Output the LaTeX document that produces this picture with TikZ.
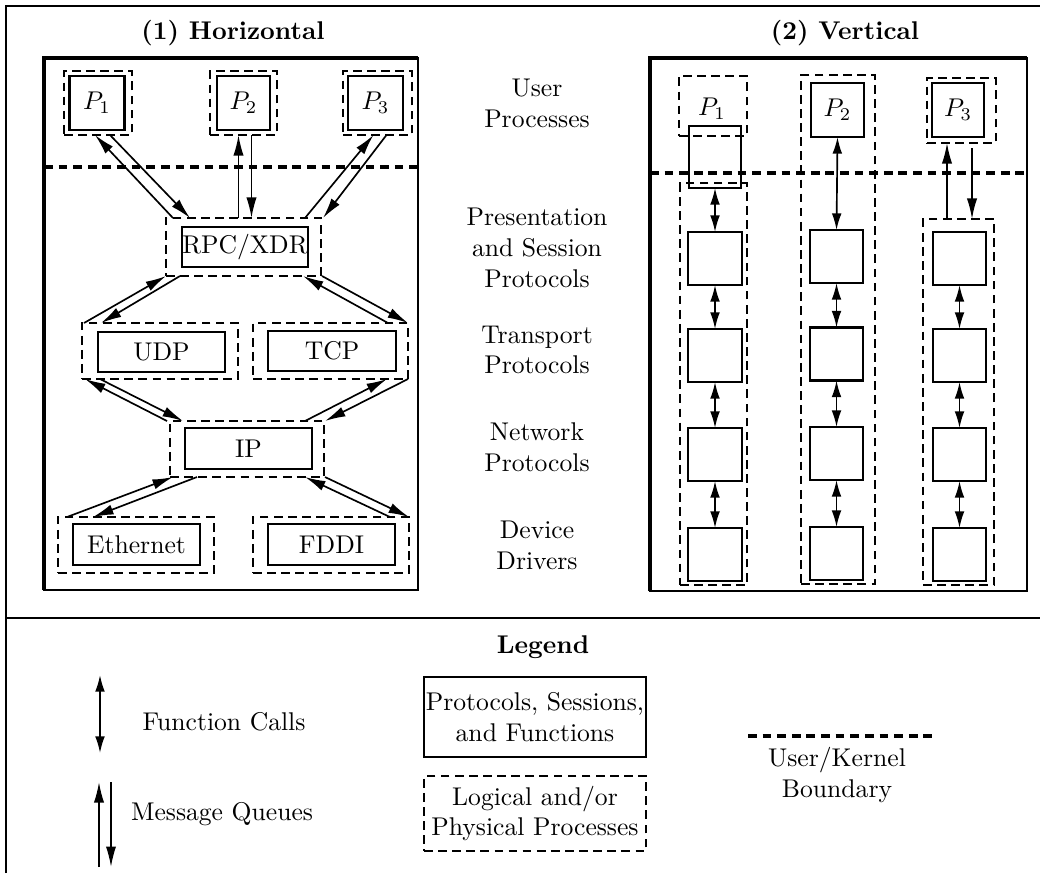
\documentclass[tikz,border=0pt]{standalone}
\usetikzlibrary{arrows.meta,calc}
\tikzset{
  sz/.style 2 args={minimum width=#1*0.39pt, minimum height=#2*0.39pt},
  sbox/.style={draw, line width=0.95pt, inner sep=0pt, outer sep=0pt},
  dbox/.style={draw, line width=0.85pt, dash pattern=on 3.4pt off 2.1pt, inner sep=0pt, outer sep=0pt},
  mq/.style={line width=0.65pt, -{Latex[length=8pt,width=4pt]}},
  fc/.style={line width=0.65pt, {Latex[length=6.5pt,width=3.8pt]}-{Latex[length=6.5pt,width=3.8pt]}},
  ukb/.style={line width=1.7pt, dash pattern=on 3.4pt off 2.3pt},
  thinframe/.style={line width=0.6pt},
  thickframe/.style={line width=1.7pt},
  lbl/.style={align=center, inner sep=0pt},
  ttl/.style={font=\bfseries, inner sep=0pt}
}
\begin{document}
\begin{tikzpicture}[x=0.39pt, y=-0.39pt]
\useasboundingbox (0,0) rectangle (1040,873);
% outer frame
\draw[line width=0.8pt] (6,873) -- (6,6) -- (1040,6);
\draw[line width=0.8pt] (6,618) -- (1040,618);

% ===== (1) Horizontal =====
\node[ttl] (t1ttl) at (233,33) {(1) Horizontal};
\draw[thinframe] (44,58) rectangle (418,590);
\draw[thickframe] (44,590) -- (44,58) -- (418,58);
\draw[ukb] (44,167) -- (418,167);

\node[dbox, sz={68}{64}] (p1o) at (98,103) {};
\node[sbox, sz={55}{54}] (p1) at (97,103) {$P_1$};
\node[dbox, sz={67}{64}] (p2o) at (243.5,103) {};
\node[sbox, sz={53}{54}] (p2) at (243.5,103) {$P_2$};
\node[dbox, sz={69}{64}] (p3o) at (377.5,103) {};
\node[sbox, sz={55}{54}] (p3) at (375.5,103) {$P_3$};

\node[dbox, sz={155}{58}] (rpco) at (243.5,247) {};
\node[sbox, sz={126}{40}] (rpc) at (245,247) {RPC/XDR};

\node[dbox, sz={156}{56}] (udpo) at (160,351) {};
\node[sbox, sz={127}{40}] (udp) at (161.5,352) {UDP};
\node[dbox, sz={155}{56}] (tcpo) at (330.5,351) {};
\node[sbox, sz={128}{40}] (tcp) at (332,351) {TCP};

\node[dbox, sz={154}{56}] (ipo) at (247,449) {};
\node[sbox, sz={127}{41}] (ip) at (248.5,448.5) {IP};

\node[dbox, sz={156}{56}] (etho) at (136,545) {};
\node[sbox, sz={127}{41}] (eth) at (136.5,544.5) {Ethernet};
\node[dbox, sz={156}{56}] (fddio) at (331,545) {};
\node[sbox, sz={127}{41}] (fddi) at (331.5,544.5) {FDDI};

% message queues, left panel
\draw[mq] ($(rpco.north west)+(7,0)$) -- ($(p1o.south)+(-3,0)$);
\draw[mq] ($(p1o.south)+(12,0)$) -- ($(rpco.north west)+(24,0)$);
\draw[mq] ($(rpco.north)+(-5,0)$) -- ($(p2o.south)+(-5,0)$);
\draw[mq] ($(p2o.south)+(8,0)$) -- ($(rpco.north)+(8,0)$);
\draw[mq] ($(rpco.north east)+(-16,0)$) -- ($(p3o.south)+(-4,0)$);
\draw[mq] ($(p3o.south)+(9,0)$) -- ($(rpco.north east)+(2,0)$);

\draw[mq] ($(udpo.north west)+(2,0)$) -- (rpco.south west);
\draw[mq] ($(rpco.south west)+(14,0)$) -- ($(udpo.north west)+(19,0)$);
\draw[mq] ($(tcpo.north east)+(-20,0)$) -- ($(rpco.south east)+(-18,0)$);
\draw[mq] ($(rpco.south east)+(1,0)$) -- (tcpo.north east);

\draw[mq] ($(ipo.north west)+(-3,0)$) -- ($(udpo.south west)+(3,0)$);
\draw[mq] ($(udpo.south west)+(18,0)$) -- ($(ipo.north west)+(13,0)$);
\draw[mq] ($(ipo.north east)+(-19,0)$) -- ($(tcpo.south east)+(-21,0)$);
\draw[mq] (tcpo.south east) -- ($(ipo.north east)+(1,0)$);

\draw[mq] ($(etho.north west)+(9,0)$) -- ($(ipo.south west)+(3,0)$);
\draw[mq] ($(ipo.south west)+(27,0)$) -- ($(etho.north west)+(35,0)$);
\draw[mq] ($(fddio.north east)+(-19,0)$) -- ($(ipo.south east)+(-19,0)$);
\draw[mq] ($(ipo.south east)+(1,0)$) -- (fddio.north east);

% ===== middle labels =====
\node[lbl] (lu) at (537,103) {User\\Processes};
\node[lbl] (lp) at (537,248) {Presentation\\and Session\\Protocols};
\node[lbl] (lt) at (537,350) {Transport\\Protocols};
\node[lbl] (ln) at (537,447) {Network\\Protocols};
\node[lbl] (ld) at (537,545) {Device\\Drivers};

% ===== (2) Vertical =====
\node[ttl] (t2ttl) at (845,33) {(2) Vertical};
\draw[thinframe] (650,58) rectangle (1027,591);
\draw[thickframe] (650,591) -- (650,58) -- (1027,58);
\draw[ukb] (650,173) -- (1027,173);

% column 1
\node[dbox, sz={68}{60}] (p1vo) at (713,106) {};
\node[inner sep=0pt] (p1vl) at (712,109) {$P_1$};
\node[dbox, sz={67}{402}] (c1d) at (713.5,384) {};
\node[sbox, sz={52}{62}] (t1) at (715,157) {};
\node[sbox, sz={54}{53}] (b11) at (715,258.5) {};
\node[sbox, sz={54}{53}] (b12) at (715,355.5) {};
\node[sbox, sz={54}{53}] (b13) at (715,454.5) {};
\node[sbox, sz={54}{53}] (b14) at (715,554.5) {};
\draw[fc] (t1.south) -- (b11.north);
\draw[fc] (b11.south) -- (b12.north);
\draw[fc] (b12.south) -- (b13.north);
\draw[fc] (b13.south) -- (b14.north);

% column 2
\node[dbox, sz={74}{509}] (c2d) at (838,329.5) {};
\node[sbox, sz={53}{54}] (p2v) at (837.5,110) {$P_2$};
\node[sbox, sz={53}{53}] (b21) at (836.5,256.5) {};
\node[sbox, sz={53}{53}] (b22) at (836.5,354) {};
\node[sbox, sz={53}{53}] (b23) at (836.5,453.5) {};
\node[sbox, sz={53}{53}] (b24) at (836.5,553.5) {};
\draw[fc] (p2v.south) -- (b21.north);
\draw[fc] (b21.south) -- (b22.north);
\draw[fc] (b22.south) -- (b23.north);
\draw[fc] (b23.south) -- (b24.north);

% column 3
\node[dbox, sz={69}{65}] (p3vo) at (961.5,110.5) {};
\node[sbox, sz={52}{54}] (p3v) at (958,110) {$P_3$};
\node[dbox, sz={71}{366}] (c3d) at (958.5,402) {};
\node[sbox, sz={53}{53}] (b31) at (959.5,258.5) {};
\node[sbox, sz={53}{53}] (b32) at (959.5,355.5) {};
\node[sbox, sz={53}{53}] (b33) at (959.5,454.5) {};
\node[sbox, sz={53}{53}] (b34) at (959.5,554.5) {};
\draw[mq] ($(c3d.north)+(-11.5,0)$) -- ($(p3vo.south)+(-14.5,0)$);
\draw[mq] ($(p3vo.south)+(10.5,5)$) -- ($(c3d.north)+(13.5,0)$);
\draw[fc] (b31.south) -- (b32.north);
\draw[fc] (b32.south) -- (b33.north);
\draw[fc] (b33.south) -- (b34.north);

% ===== Legend =====
\node[ttl] (legt) at (543,647) {Legend};
\coordinate (fca) at (100,675);
\coordinate (fcb) at (100,753);
\draw[fc] (fca) -- (fcb);
\node (fcl) at (224,722) {Function Calls};
\coordinate (mqa) at (99,867);
\coordinate (mqb) at (99,782);
\coordinate (mqc) at (111,782);
\coordinate (mqd) at (111,867);
\draw[mq] (mqa) -- (mqb);
\draw[mq] (mqc) -- (mqd);
\node (mql) at (222,814) {Message Queues};
\node[sbox, sz={222}{80}, align=center] (lsb) at (535,717) {Protocols, Sessions,\\and Functions};
\node[dbox, sz={222}{75}, align=center] (ldb) at (535,813.5) {Logical and/or\\Physical Processes};
\coordinate (uka) at (748,736);
\coordinate (ukz) at (936,736);
\draw[ukb] (uka) -- (ukz);
\node[lbl] (ukl) at (837,775) {User/Kernel\\Boundary};
\end{tikzpicture}
\end{document}
